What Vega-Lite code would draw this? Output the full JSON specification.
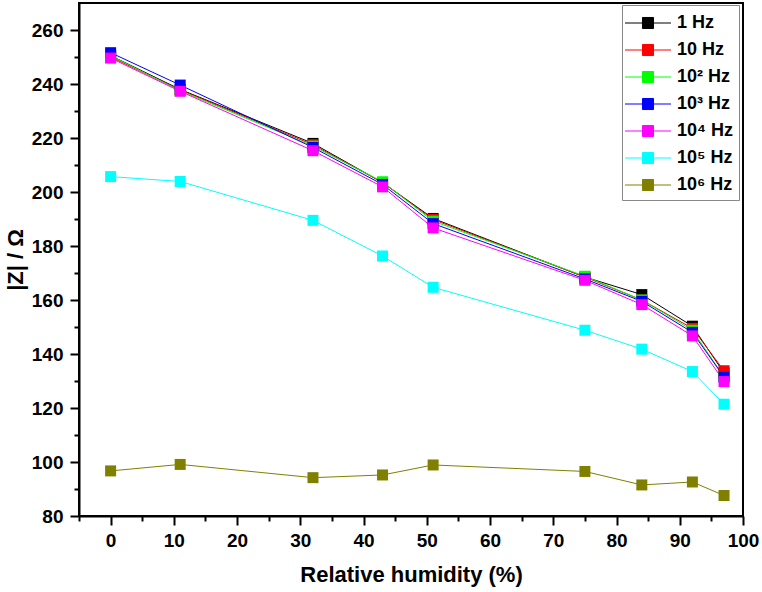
{
  "$schema": "https://vega.github.io/schema/vega-lite/v6.json",
  "width": 664,
  "height": 513,
  "autosize": {"type": "none"},
  "padding": {"left": 79, "top": 3, "right": 19, "bottom": 76},
  "background": "white",
  "config": {
    "font": "Liberation Sans",
    "view": {"stroke": "black", "strokeWidth": 2}
  },
  "data": {"values": [
    {"rh": 0, "f": "1 Hz", "z": 250.5}, {"rh": 11, "f": "1 Hz", "z": 238}, {"rh": 32, "f": "1 Hz", "z": 218}, {"rh": 43, "f": "1 Hz", "z": 203.5}, {"rh": 51, "f": "1 Hz", "z": 190.2}, {"rh": 75, "f": "1 Hz", "z": 168.5}, {"rh": 84, "f": "1 Hz", "z": 162}, {"rh": 92, "f": "1 Hz", "z": 150.3}, {"rh": 97, "f": "1 Hz", "z": 133},
    {"rh": 0, "f": "10 Hz", "z": 250}, {"rh": 11, "f": "10 Hz", "z": 237.8}, {"rh": 32, "f": "10 Hz", "z": 217.5}, {"rh": 43, "f": "10 Hz", "z": 203.5}, {"rh": 51, "f": "10 Hz", "z": 189.8}, {"rh": 75, "f": "10 Hz", "z": 168.5}, {"rh": 84, "f": "10 Hz", "z": 160}, {"rh": 92, "f": "10 Hz", "z": 149.5}, {"rh": 97, "f": "10 Hz", "z": 133.8},
    {"rh": 0, "f": "10² Hz", "z": 250.5}, {"rh": 11, "f": "10² Hz", "z": 237.5}, {"rh": 32, "f": "10² Hz", "z": 217}, {"rh": 43, "f": "10² Hz", "z": 203.8}, {"rh": 51, "f": "10² Hz", "z": 189.2}, {"rh": 75, "f": "10² Hz", "z": 168.8}, {"rh": 84, "f": "10² Hz", "z": 160}, {"rh": 92, "f": "10² Hz", "z": 148.8}, {"rh": 97, "f": "10² Hz", "z": 131.5},
    {"rh": 0, "f": "10³ Hz", "z": 251.6}, {"rh": 11, "f": "10³ Hz", "z": 239.6}, {"rh": 32, "f": "10³ Hz", "z": 216.5}, {"rh": 43, "f": "10³ Hz", "z": 202.8}, {"rh": 51, "f": "10³ Hz", "z": 188.3}, {"rh": 75, "f": "10³ Hz", "z": 167.8}, {"rh": 84, "f": "10³ Hz", "z": 159.5}, {"rh": 92, "f": "10³ Hz", "z": 148}, {"rh": 97, "f": "10³ Hz", "z": 131.5},
    {"rh": 0, "f": "10⁴ Hz", "z": 249.6}, {"rh": 11, "f": "10⁴ Hz", "z": 237.3}, {"rh": 32, "f": "10⁴ Hz", "z": 215.3}, {"rh": 43, "f": "10⁴ Hz", "z": 201.9}, {"rh": 51, "f": "10⁴ Hz", "z": 186.7}, {"rh": 75, "f": "10⁴ Hz", "z": 167.3}, {"rh": 84, "f": "10⁴ Hz", "z": 158.3}, {"rh": 92, "f": "10⁴ Hz", "z": 146.7}, {"rh": 97, "f": "10⁴ Hz", "z": 129.8},
    {"rh": 0, "f": "10⁵ Hz", "z": 205.7}, {"rh": 11, "f": "10⁵ Hz", "z": 203.9}, {"rh": 32, "f": "10⁵ Hz", "z": 189.5}, {"rh": 43, "f": "10⁵ Hz", "z": 176.3}, {"rh": 51, "f": "10⁵ Hz", "z": 164.7}, {"rh": 75, "f": "10⁵ Hz", "z": 148.8}, {"rh": 84, "f": "10⁵ Hz", "z": 141.8}, {"rh": 92, "f": "10⁵ Hz", "z": 133.5}, {"rh": 97, "f": "10⁵ Hz", "z": 121.4},
    {"rh": 0, "f": "10⁶ Hz", "z": 96.7}, {"rh": 11, "f": "10⁶ Hz", "z": 99.1}, {"rh": 32, "f": "10⁶ Hz", "z": 94.2}, {"rh": 43, "f": "10⁶ Hz", "z": 95.2}, {"rh": 51, "f": "10⁶ Hz", "z": 98.9}, {"rh": 75, "f": "10⁶ Hz", "z": 96.5}, {"rh": 84, "f": "10⁶ Hz", "z": 91.5}, {"rh": 92, "f": "10⁶ Hz", "z": 92.6}, {"rh": 97, "f": "10⁶ Hz", "z": 87.6}
  ]},
  "encoding": {
    "x": {
      "field": "rh", "type": "quantitative",
      "scale": {"domain": [-5, 100], "nice": false, "zero": false},
      "axis": {
        "title": "Relative humidity (%)",
        "values": [-5, 0, 5, 10, 15, 20, 25, 30, 35, 40, 45, 50, 55, 60, 65, 70, 75, 80, 85, 90, 95, 100],
        "labelExpr": "datum.value >= 0 && datum.value % 10 === 0 ? datum.label : ''",
        "tickSize": {"condition": {"test": "datum.value >= 0 && datum.value % 10 === 0", "value": 9}, "value": 5},
        "domainColor": "black", "domainWidth": 2, "tickColor": "black", "tickWidth": 2, "grid": false,
        "labelFont": "Liberation Sans", "labelFontSize": 19, "labelFontWeight": "bold", "labelColor": "black",
        "titleFont": "Liberation Sans", "titleFontSize": 22, "titleFontWeight": "bold", "titleColor": "black",
        "labelPadding": 6, "labelFlush": false, "labelOverlap": false, "titlePadding": 14
      }
    },
    "y": {
      "field": "z", "type": "quantitative",
      "scale": {"domain": [80, 270], "nice": false, "zero": false},
      "axis": {
        "title": "|Z| / Ω",
        "values": [80, 90, 100, 110, 120, 130, 140, 150, 160, 170, 180, 190, 200, 210, 220, 230, 240, 250, 260],
        "labelExpr": "datum.value % 20 === 0 ? datum.label : ''",
        "tickSize": {"condition": {"test": "datum.value % 20 === 0", "value": 9}, "value": 5},
        "domainColor": "black", "domainWidth": 2, "tickColor": "black", "tickWidth": 2, "grid": false,
        "labelFont": "Liberation Sans", "labelFontSize": 19, "labelFontWeight": "bold", "labelColor": "black",
        "titleFont": "Liberation Sans", "titleFontSize": 22, "titleFontWeight": "bold", "titleColor": "black",
        "labelPadding": 7, "labelFlush": false, "labelOverlap": false, "titlePadding": 4
      }
    }
  },
  "layer": [
    {
      "mark": {"type": "line", "strokeWidth": 1},
      "encoding": {
        "detail": {"field": "f"},
        "color": {
          "field": "f", "type": "nominal",
          "scale": {
            "domain": ["1 Hz", "10 Hz", "10² Hz", "10³ Hz", "10⁴ Hz", "10⁵ Hz", "10⁶ Hz"],
            "range": ["#000000", "#ff0000", "#00ff00", "#0000ff", "#ff00ff", "#00ffff", "#808000"]
          },
          "legend": {
            "orient": "none", "legendX": 543, "legendY": 2, "title": null,
            "symbolType": "M-2,0H2M-0.48,-0.48H0.48V0.48H-0.48Z",
            "symbolSize": 529, "symbolStrokeWidth": 1, "symbolOffset": 8,
            "labelFont": "Liberation Sans", "labelFontSize": 18, "labelFontWeight": "bold", "labelColor": "black",
            "labelOffset": 17, "rowPadding": 6,
            "strokeColor": "#888888", "padding": 6,
            "encode": {"symbols": {"update": {
              "fill": {"scale": "color", "field": "value"},
              "stroke": {"scale": "color", "field": "value"},
              "strokeWidth": {"value": 1},
              "opacity": {"value": 1}
            }}}
          }
        }
      }
    },
    {
      "mark": {"type": "point", "shape": "square", "filled": true, "size": 121, "opacity": 1},
      "encoding": {"color": {"field": "f", "type": "nominal", "legend": null}}
    }
  ]
}
